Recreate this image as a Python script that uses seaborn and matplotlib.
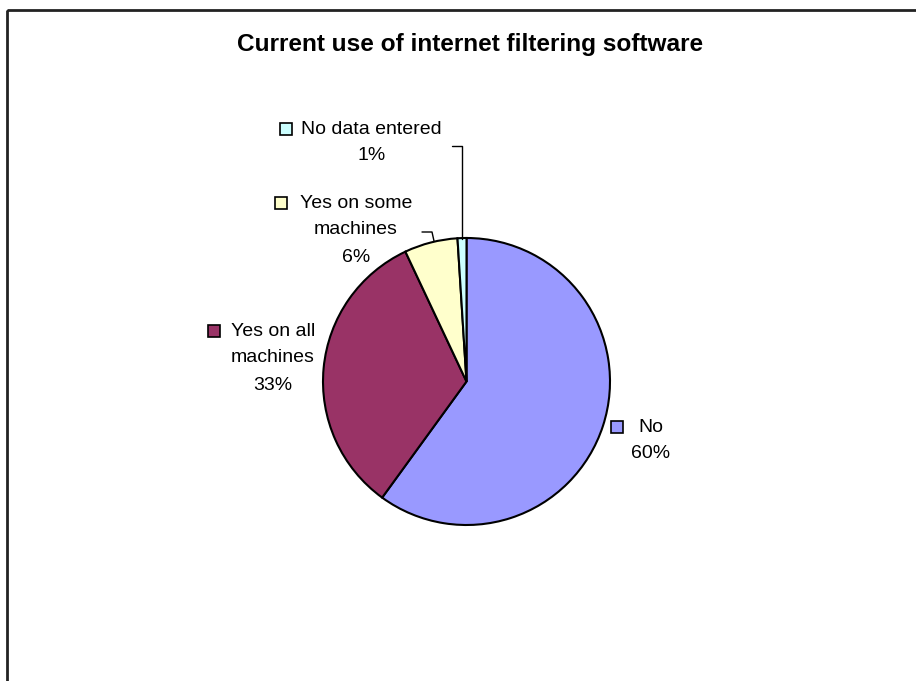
import matplotlib
matplotlib.use('Agg')
import matplotlib.pyplot as plt
from matplotlib.patches import Rectangle
from matplotlib.lines import Line2D
from matplotlib.transforms import Affine2D
import seaborn as sns

# %% Data
categories = ['No', 'Yes on all machines', 'Yes on some machines', 'No data entered']
label_lines = [['No'], ['Yes on all', 'machines'], ['Yes on some', 'machines'], ['No data entered']]
shares = [60, 33, 6, 1]
colors = ['#9999FF', '#993366', '#FFFFCC', '#CCFFFF']
title = 'Current use of internet filtering software'

# %% Style
sns.set_theme(style='white')
plt.rcParams['font.family'] = ['Liberation Sans', 'DejaVu Sans']
plt.rcParams['text.color'] = 'black'

W, H = 916, 681
fig = plt.figure(figsize=(W / 100, H / 100), dpi=100)
# pixel coordinates measured from top-left
pix = Affine2D().scale(1 / W, -1 / H).translate(0, 1) + fig.transFigure

# outer chart frame (open to the right and bottom)
fig.patches.append(Rectangle((7, 10), 1200, 1200, fill=False, lw=2,
                             edgecolor='#222222', transform=pix))

# %% Pie
cx, cy, r = 466.5, 381.5, 143.5
ax = fig.add_axes([(cx - r) / W, (H - cy - r) / H, 2 * r / W, 2 * r / H])
ax.pie(shares, colors=sns.color_palette(colors), startangle=90, counterclock=False,
       wedgeprops=dict(edgecolor='black', linewidth=1.5))
ax.set_xlim(-1, 1)
ax.set_ylim(-1, 1)
ax.axis('off')

fig.text(470, 44, title, transform=pix, ha='center', va='center',
         fontsize=17.6, fontweight='bold')

# %% Data labels: (text centre x, first line centre y, square x)
label_pos = [(651, 427, 611), (273, 331, 208), (356, 203, 275), (371.5, 129, 280)]
line_gap = 27
for lines, share, col, (tx, ty, sx) in zip(label_lines, shares, colors, label_pos):
    for k, txt in enumerate(lines + [f'{share}%']):
        fig.text(tx, ty + k * line_gap, txt, transform=pix, ha='center',
                 va='center', fontsize=14)
    fig.patches.append(Rectangle((sx, ty - 6), 12, 12, facecolor=col,
                                 edgecolor='black', lw=1.2, transform=pix))

# leader lines
fig.lines.append(Line2D([452, 462, 462], [146, 146, 239], color='black', lw=1,
                        transform=pix))
fig.lines.append(Line2D([422, 432, 434], [232, 232, 241], color='black', lw=1,
                        transform=pix))

plt.savefig('out.png', dpi=100)
